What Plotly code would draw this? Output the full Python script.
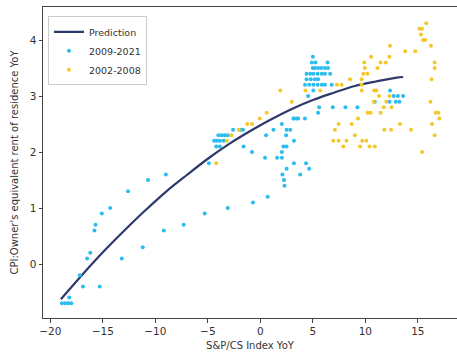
import plotly.graph_objects as go

# Fitted prediction curve (S&P/CS YoY -> OER YoY)
pred_x = [-19.0, -17.0, -15.0, -13.0, -11.0, -9.0, -7.0, -5.0, -3.0, -1.0,
          1.0, 3.0, 5.0, 7.0, 9.0, 11.0, 13.0, 13.6]
pred_y = [-0.63, -0.20, 0.21, 0.59, 0.95, 1.29, 1.59, 1.88, 2.14, 2.37,
          2.58, 2.77, 2.93, 3.06, 3.18, 3.26, 3.33, 3.34]

# 2009-2021 observations
x_2009 = [-18.9, -18.6, -18.3, -18.0, -18.2, -17.2, -16.9, -15.3, -16.5, -16.2,
          -13.2, -15.8, -15.7, -15.1, -14.3, -12.6, -10.7, -9.0, -11.2, -9.2,
          -7.3, -5.3, -3.1, -0.7, 0.7, -4.9,
          -4.0, -3.7, -3.4, -3.1, -4.4, -4.15, -3.85, -3.5, -4.2, -3.85,
          -2.6, -1.9, -1.65, -1.6, -0.8, 0.45, 0.55, 1.25, 2.05, 2.5,
          2.85, 2.45, 3.2, 3.45, 3.2, 2.2, 2.5, 2.05, 1.6, 2.05,
          3.2, 4.35, 2.5, 4.65, 2.1, 3.8, 2.25, 2.3,
          3.15, 3.6, 4.25, 5.5, 5.6, 6.9, 8.1, 9.25, 4.55,
          5.0, 4.9, 5.25, 6.4, 5.0, 5.2, 5.5, 5.8, 6.15, 6.45,
          4.4, 4.75, 5.05, 5.45, 5.85, 6.15, 6.65,
          4.4, 4.8, 5.2, 5.5,
          4.25, 4.65, 5.05, 5.45, 5.85, 6.15, 6.8,
          5.05,
          12.35, 12.7, 13.1, 13.6, 10.9, 12.3, 12.9, 13.25]
y_2009 = [-0.7, -0.7, -0.7, -0.7, -0.6, -0.2, -0.4, -0.4, 0.1, 0.2,
          0.1, 0.6, 0.7, 0.9, 1.0, 1.3, 1.5, 1.6, 0.3, 0.6,
          0.7, 0.9, 1.0, 1.1, 1.2, 1.8,
          2.3, 2.3, 2.3, 2.3, 2.2, 2.2, 2.2, 2.2, 2.1, 2.1,
          2.4, 2.4, 2.4, 2.1, 2.0, 1.9, 2.3, 2.4, 2.5, 2.4,
          2.4, 2.3, 2.6, 2.6, 2.2, 2.1, 2.1, 2.0, 1.9, 1.9,
          1.8, 1.8, 1.7, 1.7, 1.6, 1.6, 1.5, 1.4,
          2.6, 2.6, 2.6, 2.7, 2.8, 2.8, 2.8, 2.8, 3.0,
          3.7, 3.6, 3.6, 3.6, 3.5, 3.5, 3.5, 3.5, 3.5, 3.5,
          3.4, 3.4, 3.4, 3.4, 3.4, 3.4, 3.4,
          3.3, 3.3, 3.3, 3.3,
          3.2, 3.2, 3.2, 3.2, 3.2, 3.2, 3.2,
          3.1,
          3.1, 3.0, 3.0, 3.0, 2.9, 2.9, 2.9, 2.9]

# 2002-2008 observations
x_2002 = [-4.2, -3.2, -2.75, -2.05, -1.25, -0.8, -0.05, 0.6,
          1.9, 3.0, 4.3, 5.7,
          15.8, 15.15, 15.4, 15.3, 15.5, 15.7, 12.35, 16.25, 13.8, 14.75,
          10.55, 12.3, 9.9, 11.45, 11.95, 16.6, 9.95, 11.15, 16.6,
          9.8, 10.2, 8.55, 9.65, 16.3, 7.3, 7.75, 9.65,
          9.65, 10.85, 11.05, 11.3, 12.3, 10.8, 12.0, 16.2,
          11.75, 12.5, 10.2, 10.5, 11.45, 16.7, 16.95,
          17.05, 9.3, 13.3, 16.35, 8.7, 7.45,
          11.8, 12.45, 14.35, 7.1, 16.6, 9.0,
          9.7, 10.1, 6.95, 7.45, 8.2,
          10.4, 10.9, 7.9, 9.5, 15.4]
y_2002 = [1.8, 2.2, 2.3, 2.4, 2.5, 2.5, 2.6, 2.7,
          3.1, 2.9, 3.1, 3.1,
          4.3, 4.2, 4.2, 4.1, 4.0, 4.0, 3.9, 3.9, 3.8, 3.8,
          3.7, 3.7, 3.6, 3.6, 3.6, 3.6, 3.5, 3.5, 3.5,
          3.4, 3.4, 3.3, 3.3, 3.3, 3.2, 3.2, 3.2,
          3.1, 3.1, 3.1, 3.0, 3.0, 2.9, 2.9, 2.9,
          2.8, 2.8, 2.7, 2.7, 2.7, 2.7, 2.7,
          2.6, 2.6, 2.5, 2.5, 2.5, 2.5,
          2.4, 2.4, 2.4, 2.4, 2.3, 2.3,
          2.2, 2.2, 2.2, 2.2, 2.2,
          2.1, 2.1, 2.1, 2.1, 2.0]

x_ticks = [-20, -15, -10, -5, 0, 5, 10, 15]
y_ticks = [0, 1, 2, 3, 4]

FONT = "DejaVu Sans"
TEXT = "#333333"
AXIS = "#444444"

fig = go.Figure()
fig.add_trace(go.Scatter(
    x=pred_x, y=pred_y, mode="lines", name="Prediction",
    line=dict(color="#2d3a6b", width=2.2, shape="spline"),
))
fig.add_trace(go.Scatter(
    x=x_2009, y=y_2009, mode="markers", name="2009-2021",
    marker=dict(color="#2bbcf0", size=4, line=dict(width=0)),
))
fig.add_trace(go.Scatter(
    x=x_2002, y=y_2002, mode="markers", name="2002-2008",
    marker=dict(color="#f5c72a", size=4, line=dict(width=0)),
))

fig.update_layout(
    width=457, height=355,
    margin=dict(l=43, r=0, t=7, b=37),
    paper_bgcolor="white", plot_bgcolor="white",
    font=dict(family=FONT, size=10, color=TEXT),
    showlegend=True,
    legend=dict(
        x=0.012, y=0.97, xanchor="left", yanchor="top",
        bgcolor="rgba(255,255,255,0.85)", bordercolor="#cccccc", borderwidth=1,
        font=dict(family=FONT, size=9.5, color=TEXT),
        itemwidth=30, tracegroupgap=0,
    ),
    xaxis=dict(
        range=[-20.70, 18.73], tickvals=x_ticks,
        showgrid=False, zeroline=False,
        showline=True, mirror=True, linecolor=AXIS, linewidth=1,
        ticks="outside", ticklen=3.5, tickcolor=AXIS,
        tickfont=dict(family=FONT, size=10.5, color=TEXT),
        title=dict(text="S&P/CS Index YoY", standoff=5,
                   font=dict(family=FONT, size=10, color=TEXT)),
    ),
    yaxis=dict(
        range=[-0.964, 4.59], tickvals=y_ticks,
        showgrid=False, zeroline=False,
        showline=True, mirror=False, linecolor=AXIS, linewidth=1,
        ticks="outside", ticklen=3.5, tickcolor=AXIS,
        tickfont=dict(family=FONT, size=10.5, color=TEXT),
        title=dict(text="CPI:Owner's equivalent rent of residence YoY", standoff=9,
                   font=dict(family=FONT, size=10, color=TEXT)),
    ),
)

fig.write_html("out.html")
